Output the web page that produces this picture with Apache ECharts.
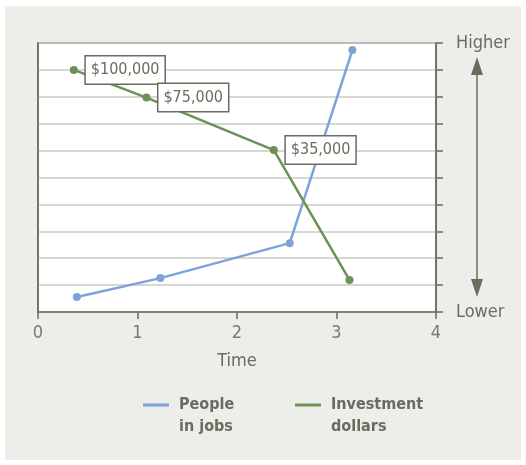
<!DOCTYPE html>
<html>
<head>
<meta charset="utf-8">
<script src="https://cdn.jsdelivr.net/npm/echarts@6/dist/echarts.min.js"></script>
<style>
    body { margin: 0; background: #fff; }
    #bg { position: absolute; left: 5px; top: 6px; width: 516px; height: 454px; background: #ededea; }
    #main { position: absolute; left: 0; top: 0; width: 526px; height: 465px; }
</style>
</head>
<body>
<div id="bg"></div>
<div id="main"></div>
<script>
    // data
    var peopleX = [0.39, 1.23, 2.53, 3.16];
    var peopleY = [0.56, 1.26, 2.56, 9.74];
    var investX = [0.36, 1.09, 2.37, 3.13];
    var investY = [9.0, 7.97, 6.02, 1.19];
    var investLabels = ['$100,000', '$75,000', '$35,000', ''];
    var xTicks = [0, 1, 2, 3, 4];
    var sideLabels = {0: 'Lower', 10: 'Higher'};

    var ink = '#6b6b5e';
    var fontName = '"DejaVu Sans Condensed", "Liberation Sans Narrow", "Roboto", sans-serif';

    var chart = echarts.init(document.getElementById('main'));

    function pairs(xs, ys) {
        var out = [];
        for (var i = 0; i < xs.length; i++) {
            out.push([xs[i], ys[i]]);
        }
        return out;
    }

    var investData = pairs(investX, investY).map(function (p, i) {
        return {
            value: p,
            label: {show: investLabels[i] !== '', formatter: investLabels[i]}
        };
    });

    // leading blank line so the icon lines up with the first line of the name
    var legendBase = {
        top: 367, icon: 'rect', itemWidth: 26, itemHeight: 3,
        formatter: function (name) {
            return ' \n' + name.split('\n').map(function (s) { return ' ' + s; }).join('\n');
        },
        textStyle: {color: ink, fontFamily: fontName, fontWeight: 'bold', fontSize: 16, lineHeight: 22}
    };

    var option = {
        animation: false,
        textStyle: {fontFamily: fontName},
        grid: {left: 38, top: 43, width: 398, height: 269, show: true, backgroundColor: '#fff', borderColor: ink, borderWidth: 1.5},
        legend: [
            Object.assign({data: ['People\nin jobs'], left: 138}, legendBase),
            Object.assign({data: ['Investment\ndollars'], left: 290}, legendBase)
        ],
        xAxis: {
            type: 'value', min: xTicks[0], max: xTicks[xTicks.length - 1], interval: 1,
            name: 'Time', nameLocation: 'middle', nameGap: 40,
            nameTextStyle: {color: ink, fontSize: 18, fontFamily: fontName},
            axisLine: {lineStyle: {color: ink, width: 1.5}},
            axisTick: {show: true, length: 7, lineStyle: {color: ink, width: 1.5}},
            axisLabel: {color: '#7a7a6e', fontSize: 18, margin: 12},
            splitLine: {show: false}
        },
        yAxis: [
            {
                type: 'value', min: 0, max: 10, interval: 1, position: 'left',
                axisLine: {show: true, lineStyle: {color: ink, width: 1.5}},
                axisTick: {show: false},
                axisLabel: {show: false},
                splitLine: {show: true, lineStyle: {color: '#cbcbc3', width: 1.5}}
            },
            {
                type: 'value', min: 0, max: 10, interval: 1, position: 'right',
                axisLine: {show: true, lineStyle: {color: ink, width: 1.5}},
                axisTick: {show: true, length: 7, lineStyle: {color: ink, width: 1.5}},
                axisLabel: {
                    color: ink, fontSize: 18, margin: 20,
                    formatter: function (v) { return sideLabels[v] || ''; }
                },
                splitLine: {show: false}
            }
        ],
        series: [
            {
                name: 'People\nin jobs', type: 'line',
                data: pairs(peopleX, peopleY),
                symbol: 'circle', symbolSize: 8,
                lineStyle: {color: '#7ea3d9', width: 2.5},
                itemStyle: {color: '#7ea3d9'},
                z: 2
            },
            {
                name: 'Investment\ndollars', type: 'line',
                data: investData,
                symbol: 'circle', symbolSize: 8,
                lineStyle: {color: '#6b9157', width: 2.5},
                itemStyle: {color: '#6b9157'},
                label: {
                    position: 'right', distance: 8,
                    color: ink, fontSize: 16, fontFamily: fontName,
                    backgroundColor: '#fff', borderColor: ink, borderWidth: 1.5,
                    padding: [6, 5, 5, 5]
                },
                z: 3
            }
        ],
        graphic: [
            {type: 'line', shape: {x1: 477, y1: 70, x2: 477, y2: 285}, style: {stroke: ink, lineWidth: 1.5}},
            {type: 'polygon', shape: {points: [[477, 57], [471, 75], [483, 75]]}, style: {fill: ink}},
            {type: 'polygon', shape: {points: [[477, 297], [471, 279], [483, 279]]}, style: {fill: ink}}
        ]
    };

    chart.setOption(option);
</script>
</body>
</html>
